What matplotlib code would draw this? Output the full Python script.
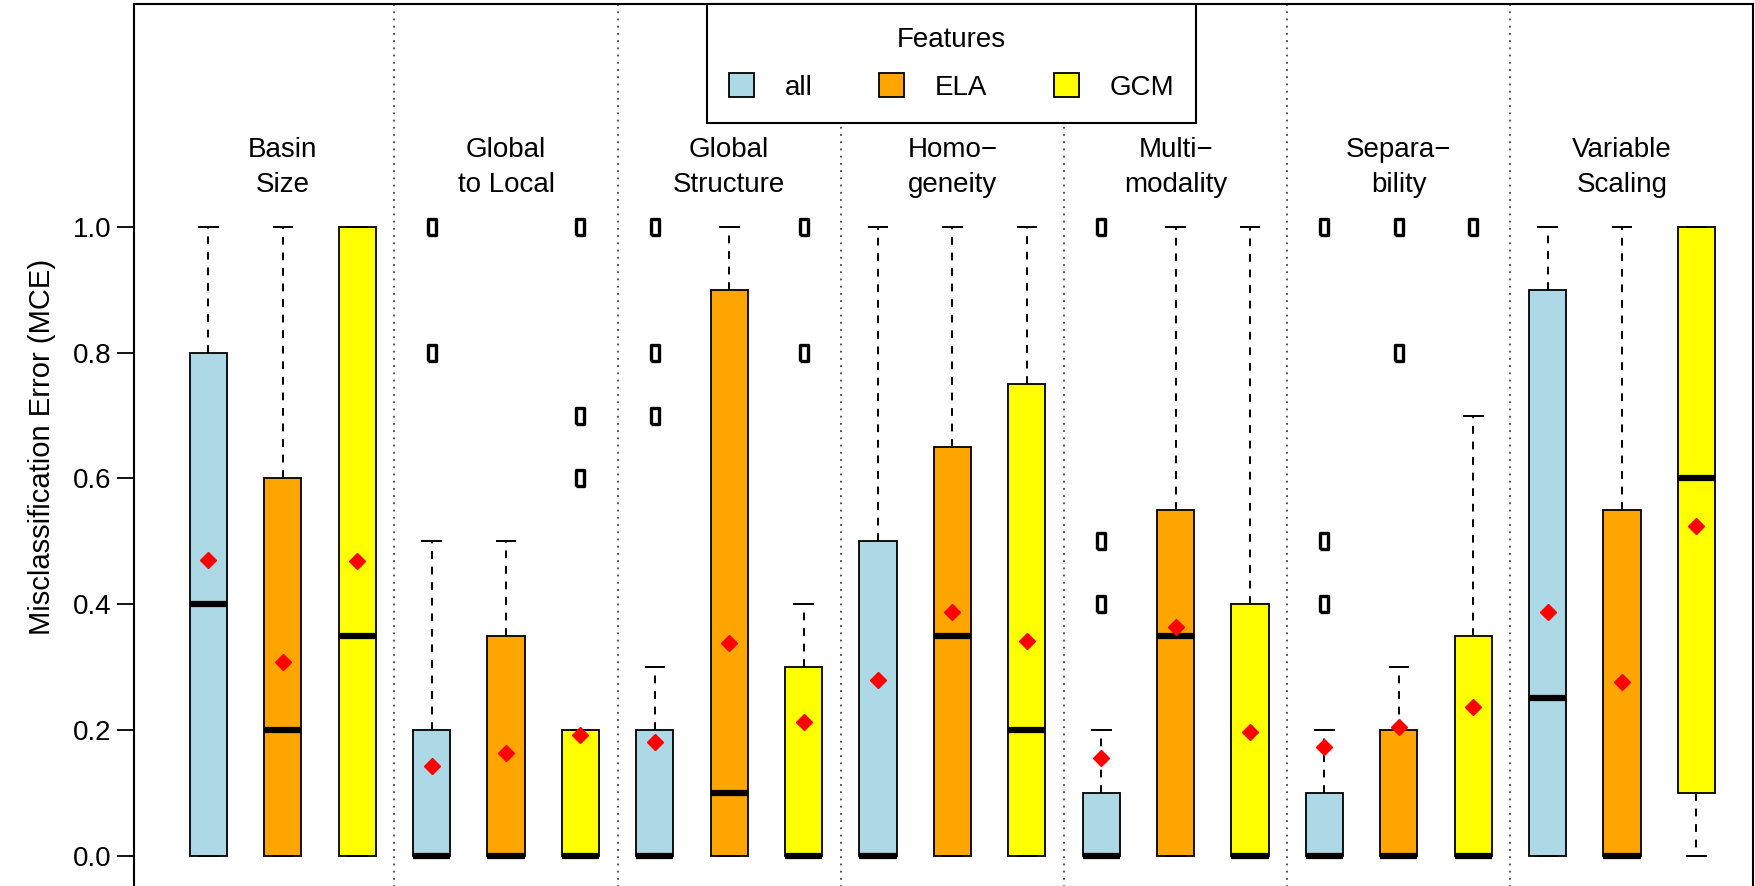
import matplotlib.pyplot as plt
from matplotlib.patches import Patch

plt.rcParams["font.family"] = ["Liberation Sans", "DejaVu Sans"]

groups = ["Basin\nSize", "Global\nto Local", "Global\nStructure", "Homo\u2212\ngeneity",
          "Multi\u2212\nmodality", "Separa\u2212\nbility", "Variable\nScaling"]
features = ["all", "ELA", "GCM"]
colors = ["#ADD8E6", "#FFA500", "#FFFF00"]

# one value per box, ordered group by group (all, ELA, GCM)
q1 = [0, 0, 0,  0, 0, 0,  0, 0, 0,  0, 0, 0,  0, 0, 0,  0, 0, 0,  0, 0, 0.1]
med = [0.4, 0.2, 0.35,  0, 0, 0,  0, 0.1, 0,  0, 0.35, 0.2,
       0, 0.35, 0,  0, 0, 0,  0.25, 0, 0.6]
q3 = [0.8, 0.6, 1.0,  0.2, 0.35, 0.2,  0.2, 0.9, 0.3,  0.5, 0.65, 0.75,
      0.1, 0.55, 0.4,  0.1, 0.2, 0.35,  0.9, 0.55, 1.0]
whislo = [0] * 21
whishi = [1, 1, 1,  0.5, 0.5, 0.2,  0.3, 1, 0.4,  1, 1, 1,
          0.2, 1, 1,  0.2, 0.3, 0.7,  1, 1, 1]
means = [0.471, 0.308, 0.468,  0.142, 0.164, 0.192,  0.180, 0.338, 0.212,
         0.279, 0.388, 0.342,  0.155, 0.363, 0.196,  0.173, 0.205, 0.237,
         0.388, 0.276, 0.525]
fliers = [[], [], [],
          [0.8, 1.0], [], [0.6, 0.7, 1.0],
          [0.7, 0.8, 1.0], [], [0.8, 1.0],
          [], [], [],
          [0.4, 0.5, 1.0], [], [],
          [0.4, 0.5, 1.0], [0.8, 1.0], [1.0],
          [], [], []]

stats = []
for i in range(len(med)):
    stats.append(dict(med=med[i], q1=q1[i], q3=q3[i], whislo=whislo[i],
                      whishi=whishi[i], mean=means[i], fliers=fliers[i]))

fig = plt.figure(figsize=(17.56, 8.86), dpi=100)
ax = fig.add_axes([134 / 1756, -0.004, (1753 - 134) / 1756, 0.9995 + 0.004 - 4 / 886])

positions = list(range(1, len(stats) + 1))
rect = [(-0.25, -0.5), (0.25, -0.5), (0.25, 0.5), (-0.25, 0.5), (-0.25, -0.5)]

bp = ax.bxp(stats, positions=positions, widths=0.5, patch_artist=True,
            showmeans=True, capwidths=0.25,
            boxprops=dict(edgecolor="black", linewidth=1.3),
            medianprops=dict(color="black", linewidth=4.5, solid_capstyle="butt"),
            whiskerprops=dict(color="black", linewidth=1.4, linestyle=(0, (4, 4))),
            capprops=dict(color="black", linewidth=1.4),
            meanprops=dict(marker="D", markerfacecolor="red", markeredgecolor="red",
                           markersize=8),
            flierprops=dict(marker=rect, markerfacecolor="none", markeredgecolor="black",
                            markeredgewidth=2.4, markersize=11))

for i, box in enumerate(bp["boxes"]):
    box.set_facecolor(colors[i % 3])

for k in range(1, len(groups)):
    ax.axvline(3 * k + 0.5, color="#444444", linestyle=(0, (1, 3)), linewidth=1.3, zorder=0)

for k, g in enumerate(groups):
    ax.text(3 * k + 2, 1.094, g, ha="center", va="center", fontsize=20, linespacing=1.45)

ax.set_xlim(0, 21.76)
ax.set_ylim(-0.054, 1.354)
ax.set_yticks([0.0, 0.2, 0.4, 0.6, 0.8, 1.0])
ax.set_yticklabels(["0.0", "0.2", "0.4", "0.6", "0.8", "1.0"])
ax.set_xticks([])
ax.tick_params(axis="y", labelsize=20, length=12, width=1.3, pad=4)
ax.set_ylabel("Misclassification Error (MCE)", fontsize=21, labelpad=12)
for s in ax.spines.values():
    s.set_linewidth(1.5)

handles = [Patch(facecolor=c, edgecolor="black", linewidth=1.3) for c in colors]
leg = ax.legend(handles, features, title="Features", ncol=3, loc="upper center",
                bbox_to_anchor=(0.505, 1.0), fontsize=20, title_fontsize=20,
                frameon=True, fancybox=False, borderaxespad=0, handlelength=0.9,
                handleheight=0.9, handletextpad=1.1, columnspacing=2.4,
                borderpad=0.8, labelspacing=0.75, framealpha=1)
leg.get_frame().set_edgecolor("black")
leg.get_frame().set_linewidth(1.5)

fig.savefig("out.png", dpi=100)
